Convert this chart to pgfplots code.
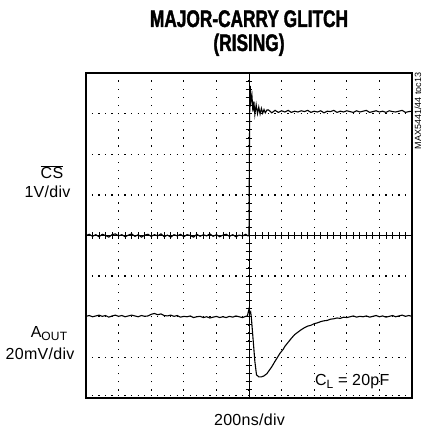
\documentclass[border=0pt]{standalone}
\usepackage{pgfplots}
\pgfplotsset{compat=1.18}
\usepackage{fontspec}
\setmainfont{Liberation Sans}[LetterSpace=1.8]
\newfontfamily\titlefont{Liberation Sans}[FakeStretch=0.72, BoldFeatures={FakeBold=1.5}]
\newfontfamily\smallfont{Liberation Sans}
\begin{document}
\begin{tikzpicture}
\useasboundingbox (0pt,0pt) rectangle (424pt,429pt);
\begin{axis}[at={(86pt,31pt)}, anchor=south west, scale only axis,
  width=326pt, height=325pt, xmin=0, xmax=10, ymin=0, ymax=8,
  xtick={0,...,10}, ytick={0,...,8},
  xticklabels={}, yticklabels={}, major tick length=0pt,
  grid=major,
  x grid style={black, line width=1.3pt, dash pattern=on 1.3pt off 6.825pt, dash phase=0.65pt},
  y grid style={black, line width=1.3pt, dash pattern=on 1.3pt off 5.22pt, dash phase=0.65pt},
  axis line style={line width=2.6pt}, clip=true]
% bottom graticule row of dots
\draw[black, line width=1.3pt, dash pattern=on 1.3pt off 5.22pt, dash phase=0.65pt] (axis cs:0,0.07) -- (axis cs:10,0.07);
% centre cross
\draw[black, line width=0.9pt] (axis cs:5,0) -- (axis cs:5,8);
\draw[black, line width=0.9pt] (axis cs:0,4) -- (axis cs:10,4);
\pgfplotsinvokeforeach{0.2,0.4,...,9.9}{\draw[black, line width=0.8pt] (axis cs:#1,3.92) -- (axis cs:#1,4.08);}
\pgfplotsinvokeforeach{0.2,0.4,...,7.9}{\draw[black, line width=0.8pt] (axis cs:4.9,#1) -- (axis cs:5.1,#1);}
% CS trace
\addplot[black, line width=1.1pt] coordinates {
(0,4.00)(0.1,4.03)(0.2,3.98)(0.3,4.02)(0.4,3.97)(0.5,4.03)(0.6,4.00)(0.7,3.96)(0.8,4.02)(0.9,4.04)
(1.0,3.99)(1.1,4.02)(1.2,3.97)(1.3,4.01)(1.4,4.04)(1.5,3.98)(1.6,4.02)(1.7,3.96)(1.8,4.01)(1.9,4.03)
(2.0,3.98)(2.1,4.02)(2.2,3.99)(2.3,4.04)(2.4,3.97)(2.5,4.01)(2.6,3.96)(2.7,4.02)(2.8,3.99)(2.9,4.03)
(3.0,3.97)(3.1,4.02)(3.2,4.00)(3.3,3.96)(3.4,4.03)(3.5,3.98)(3.6,4.02)(3.7,3.99)(3.8,4.04)(3.9,3.98)
(4.0,4.02)(4.1,3.97)(4.2,4.01)(4.3,4.03)(4.4,3.98)(4.5,4.02)(4.6,3.97)(4.7,4.01)(4.8,3.99)(4.9,4.03)
(4.97,3.99)(5.0,4.00)(5.02,7.00)(5.04,7.68)(5.06,7.30)(5.09,7.45)(5.12,7.05)(5.15,7.30)(5.18,6.98)
(5.22,7.22)(5.26,7.00)(5.30,7.16)(5.34,6.99)(5.38,7.13)(5.42,7.01)(5.46,7.10)(5.50,7.02)(5.55,7.09)
(5.6,7.09)(5.7,7.02)(5.8,7.08)(5.9,7.03)(6.0,7.07)(6.1,7.04)(6.2,7.08)(6.3,7.03)(6.4,7.06)(6.5,7.04)
(6.6,7.07)(6.7,7.05)(6.8,7.08)(6.9,7.03)(7.0,7.06)(7.1,7.04)(7.2,7.07)(7.3,7.02)(7.4,7.06)(7.5,7.05)
(7.6,7.08)(7.7,7.03)(7.8,7.06)(7.9,7.04)(8.0,7.07)(8.1,7.05)(8.2,7.03)(8.3,7.07)(8.4,7.04)(8.5,7.06)
(8.6,7.08)(8.7,7.03)(8.8,7.05)(8.9,7.07)(9.0,7.04)(9.1,7.06)(9.2,7.03)(9.3,7.07)(9.4,7.05)(9.5,7.04)
(9.6,7.06)(9.7,7.08)(9.8,7.03)(9.9,7.05)(10.0,7.06)};
% AOUT trace
\addplot[black, line width=1.1pt] coordinates {
(0,2.01)(0.1,2.03)(0.2,2.00)(0.3,2.02)(0.4,2.04)(0.5,2.01)(0.6,2.03)(0.7,1.99)(0.8,2.02)(0.9,2.04)
(1.0,2.01)(1.1,2.03)(1.2,2.00)(1.3,2.02)(1.4,2.04)(1.5,2.02)(1.6,2.00)(1.7,2.03)(1.8,2.01)(1.9,2.02)
(2.0,2.06)(2.1,2.08)(2.2,2.05)(2.3,2.07)(2.4,2.03)(2.5,2.02)(2.6,2.04)(2.7,2.01)(2.8,2.03)(2.9,1.99)
(3.0,2.01)(3.1,2.00)(3.2,2.02)(3.3,1.98)(3.4,2.00)(3.5,2.01)(3.6,1.98)(3.7,2.00)(3.8,1.97)(3.9,1.99)
(4.0,2.01)(4.1,1.98)(4.2,2.00)(4.3,1.98)(4.4,2.01)(4.5,1.99)(4.6,2.02)(4.7,2.00)(4.8,1.98)(4.9,2.01)
(4.95,2.02)(5.0,2.19)(5.02,2.08)(5.05,2.12)(5.07,2.00)(5.12,1.50)(5.18,0.90)(5.23,0.57)(5.30,0.52)
(5.38,0.52)(5.45,0.54)(5.55,0.60)(5.62,0.68)(5.70,0.77)(5.78,0.88)(5.85,0.97)(5.95,1.10)(6.05,1.20)
(6.10,1.27)(6.20,1.37)(6.30,1.47)(6.40,1.56)(6.50,1.62)(6.60,1.68)(6.70,1.73)(6.80,1.77)(6.90,1.79)
(7.00,1.83)(7.10,1.85)(7.20,1.88)(7.30,1.90)(7.40,1.91)(7.50,1.94)(7.60,1.95)(7.70,1.97)(7.80,1.96)
(7.90,1.99)(8.00,1.98)(8.1,2.00)(8.2,2.02)(8.3,1.99)(8.4,2.01)(8.5,2.00)(8.6,2.02)(8.7,1.99)(8.8,2.01)
(8.9,2.03)(9.0,2.00)(9.1,2.02)(9.2,1.99)(9.3,2.01)(9.4,2.03)(9.5,2.00)(9.6,2.02)(9.7,2.04)(9.8,2.01)
(9.9,2.03)(10.0,2.01)};
\end{axis}
\node[anchor=base] at (249pt,402pt) {\titlefont\bfseries\fontsize{24}{24}\selectfont MAJOR-CARRY GLITCH};
\node[anchor=base] at (249pt,378pt) {\titlefont\bfseries\fontsize{24}{24}\selectfont (RISING)};
\node[anchor=base] at (52pt,250pt) {\fontsize{16}{16}\selectfont$\overline{\mbox{CS}}$};
\node[anchor=base] at (47.5pt,231pt) {\fontsize{16}{16}\selectfont 1V/div};
\node[anchor=base] at (49pt,91pt) {\fontsize{16}{16}\selectfont A\raisebox{-3pt}{\fontsize{12}{12}\selectfont OUT}};
\node[anchor=base] at (40pt,69pt) {\fontsize{16}{16}\selectfont 20mV/div};
\node[anchor=base] at (249.5pt,4pt) {\fontsize{16}{16}\selectfont 200ns/div};
\node[anchor=base east] at (393pt,43pt) {\fontsize{16}{16}\selectfont C\raisebox{-3pt}{\fontsize{12}{12}\selectfont L} = 20pF};
\node[rotate=90, anchor=center] at (418pt,318pt) {\smallfont\fontsize{9}{9}\selectfont MAX5441/44 toc13};
\end{tikzpicture}
\end{document}
